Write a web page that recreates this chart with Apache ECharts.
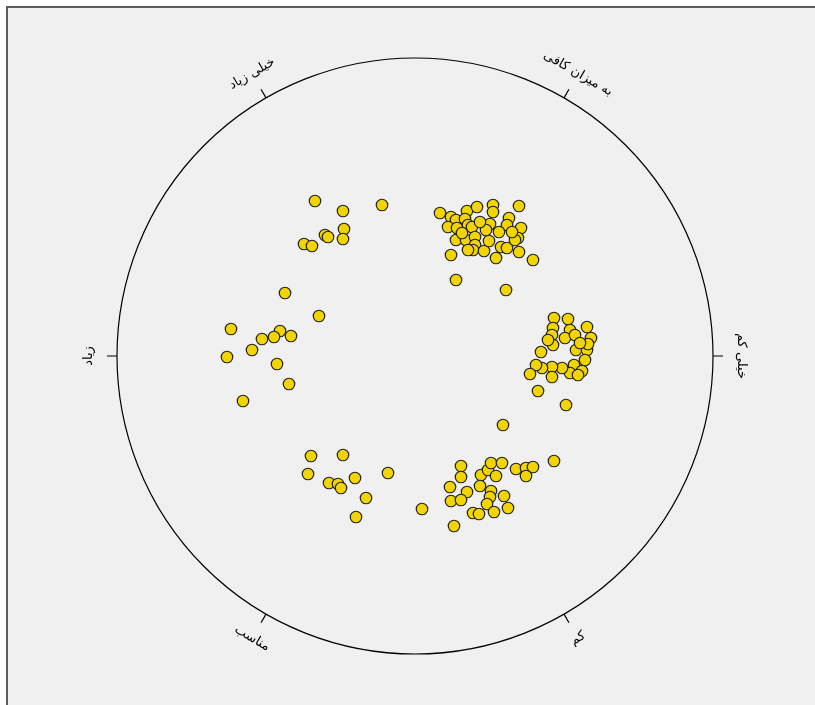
<!DOCTYPE html>
<html>
<head>
<meta charset="utf-8">
<script src="https://cdn.jsdelivr.net/npm/echarts@6/dist/echarts.min.js"></script>
<style>
  html, body { margin: 0; padding: 0; background: #ffffff; overflow: hidden; }
  #frame { position: absolute; left: 6px; top: 6px; width: 840px; height: 740px;
           border: 2px solid #5c5c5c; background: #f0f0f0; box-sizing: border-box; }
  #chart { position: absolute; left: 0; top: 0; width: 815px; height: 705px; }
</style>
</head>
<body>
<div id="frame"></div>
<div id="chart"></div>
<script>
// Category labels around the circle and their angles (degrees, counter-clockwise from the right)
const categories = ['خیلی کم', 'به میزان کافی', 'خیلی زیاد', 'زیاد', 'مناسب', 'کم'];
const categoryAngles = [0, 60, 120, 180, 240, 300];

// Jittered points per category, [x, y] in plot units (circle radius = 298)
const veryLow = [[139,38],[153,37],[172,29],[138,28],[155,26],[137,21],[150,18],[160,21],[176,18],[138,11],[133,16],[126,4],[161,6],[172,6],[170,-4],[159,-9],[167,-15],[155,-17],[163,-19],[147,-12],[137,-11],[127,-12],[121,-9],[115,-18],[137,-21],[123,-35],[151,-49],[173,12],[165,13]];
const enough = [[25,143],[36,139],[41,136],[52,145],[62,149],[78,151],[78,144],[104,150],[50,137],[33,129],[42,128],[53,131],[57,129],[75,132],[71,126],[94,138],[92,131],[84,124],[106,128],[103,118],[41,116],[51,116],[60,119],[60,111],[58,106],[69,105],[74,115],[86,109],[92,108],[100,116],[104,104],[81,98],[36,101],[118,96],[41,76],[91,66],[53,106],[47,123],[65,134],[97,124]];
const veryHigh = [[-100,155],[-72,145],[-33,151],[-71,127],[-90,121],[-87,119],[-72,117],[-111,112],[-103,110]];
const high = [[-130,63],[-96,40],[-184,27],[-135,25],[-153,17],[-141,19],[-124,20],[-163,6],[-188,-1],[-138,-8],[-126,-28],[-172,-45]];
const appropriate = [[-104,-100],[-72,-99],[-107,-118],[-86,-127],[-77,-128],[-74,-132],[-60,-122],[-27,-117],[-49,-142],[-59,-161]];
const low = [[88,-69],[7,-153],[39,-170],[46,-110],[46,-121],[35,-131],[52,-136],[36,-145],[46,-144],[66,-119],[73,-114],[76,-107],[81,-120],[87,-107],[65,-130],[76,-135],[75,-141],[89,-140],[72,-148],[58,-157],[64,-158],[79,-156],[93,-152],[101,-113],[111,-112],[118,-111],[111,-120],[139,-105]];

const R = 298;
const chart = echarts.init(document.getElementById('chart'), null, { renderer: 'canvas' });

const labelData = categoryAngles.map((a, i) => ({ value: [a], name: categories[i] }));

chart.setOption({
  backgroundColor: 'transparent',
  animation: false,
  polar: { center: [415, 356], radius: R },
  angleAxis: {
    type: 'value',
    min: 0,
    max: 360,
    interval: 60,
    startAngle: 0,
    clockwise: false,
    axisLine: { show: true, lineStyle: { color: '#000', width: 1.2 } },
    axisTick: { show: true, inside: false, length: 10, lineStyle: { color: '#000', width: 1.2 } },
    axisLabel: { show: false },
    splitLine: { show: false }
  },
  radiusAxis: { show: false, min: 0, max: 1, axisLine: { show: false }, splitLine: { show: false } },
  grid: { left: 415 - R, top: 356 - R, width: 2 * R, height: 2 * R },
  xAxis: { type: 'value', min: -R, max: R, show: false },
  yAxis: { type: 'value', min: -R, max: R, show: false },
  series: [
    {
      type: 'scatter',
      xAxisIndex: 0, yAxisIndex: 0,
      data: [].concat(veryLow, enough, veryHigh, high, appropriate, low),
      symbol: 'circle',
      symbolSize: 11.5,
      itemStyle: { color: '#f2d500', borderColor: '#222', borderWidth: 1.2, opacity: 1 },
      z: 3
    },
    {
      type: 'custom',
      xAxisIndex: 0, yAxisIndex: 0,
      data: labelData,
      clip: false,
      renderItem: function (params, api) {
        const a = api.value(0);
        const rad = a * Math.PI / 180;
        const rl = 326;
        const p = api.coord([rl * Math.cos(rad), rl * Math.sin(rad)]);
        const rotDeg = (a <= 180) ? a - 90 : a + 90;
        return {
          type: 'text',
          x: p[0], y: p[1],
          rotation: rotDeg * Math.PI / 180,
          style: {
            text: categories[params.dataIndex],
            fill: '#000',
            font: '13px "DejaVu Sans"',
            align: 'center',
            verticalAlign: 'middle'
          }
        };
      },
      z: 4
    }
  ]
});
</script>
</body>
</html>
